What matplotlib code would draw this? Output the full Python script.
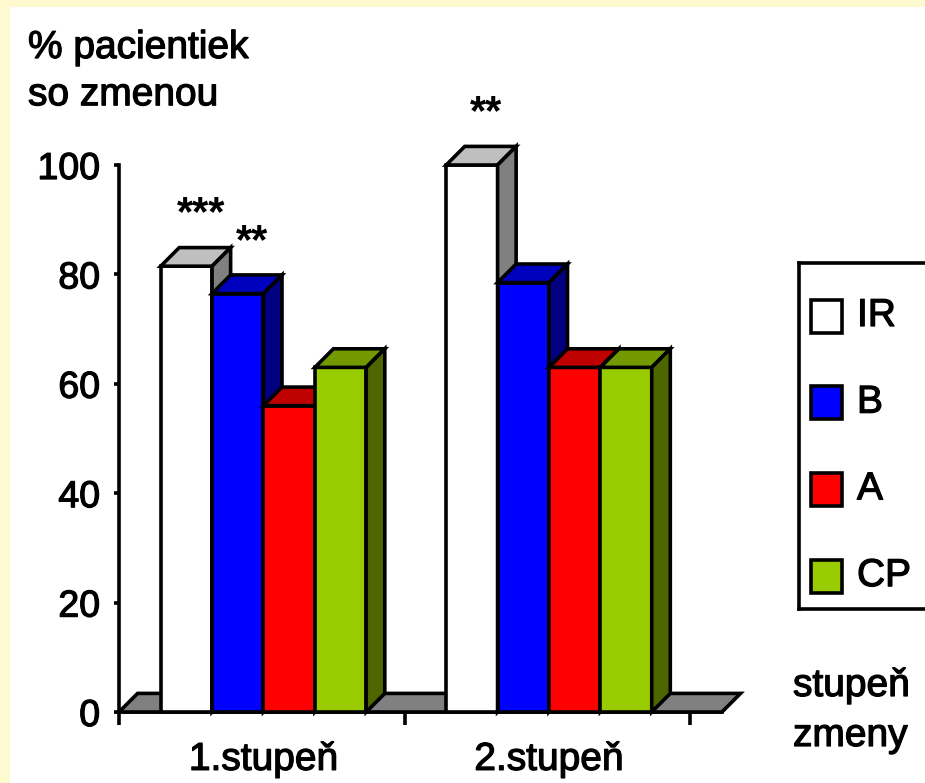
import matplotlib
matplotlib.use("Agg")
import matplotlib.pyplot as plt
import matplotlib.patheffects as pe
from matplotlib.colors import to_rgb
from matplotlib.patches import Polygon, Rectangle

plt.rcParams["font.family"] = ["Liberation Sans", "DejaVu Sans"]

categories = ["1.stupeň", "2.stupeň"]
series_names = ["IR", "B", "A", "CP"]
series_colors = ["#FFFFFF", "#0000FF", "#FF0000", "#99CC00"]

# % of patients with a change, per grade
ir = [81.5, 100]
b = [76.5, 78.5]
a = [56, 63]
cp = [63, 63]
series_values = [ir, b, a, cp]

# significance marks above the bars
ir_sig = ["***", "**"]
b_sig = ["**", ""]
a_sig = ["", ""]
cp_sig = ["", ""]
series_sig = [ir_sig, b_sig, a_sig, cp_sig]

W, H = 925, 783
LW = 2.6
BAR_W = 0.18
GROUP_OFFSET = 0.146
DX, DY = 0.065, 3.4  # oblique depth of the 3D boxes
FLOOR_END = 2.112
HEAVY = [pe.withStroke(linewidth=0.9, foreground="black")]


def shade(color, f):
    return tuple(c * f for c in to_rgb(color))


fig = plt.figure(figsize=(W / 100, H / 100), dpi=100, facecolor="#FFF9CF")
fig.add_artist(Rectangle((10 / W, 0), 1, 1 - 7 / H, transform=fig.transFigure,
                         facecolor="white", edgecolor="none", zorder=-1))

ax = fig.add_axes([119 / W, 71 / H, 2.2 * 285.5 / W, 115 * 5.47 / H])
ax.set_xlim(0, 2.2)
ax.set_ylim(0, 115)
ax.patch.set_visible(False)

# floor
ax.add_patch(Polygon([(0, 0), (FLOOR_END, 0), (FLOOR_END + DX, DY), (DX, DY)],
                     closed=True, facecolor="#808080", edgecolor="black",
                     linewidth=LW, zorder=2, clip_on=False))

for j, (vals, color, sigs) in enumerate(zip(series_values, series_colors, series_sig)):
    for i, v in enumerate(vals):
        x0 = i + GROUP_OFFSET + j * BAR_W
        x1 = x0 + BAR_W
        faces = [
            ([(x0, 0), (x1, 0), (x1, v), (x0, v)], to_rgb(color)),
            ([(x0, v), (x1, v), (x1 + DX, v + DY), (x0 + DX, v + DY)], shade(color, 0.75)),
            ([(x1, 0), (x1 + DX, DY), (x1 + DX, v + DY), (x1, v)], shade(color, 0.5)),
        ]
        for pts, fc in faces:
            ax.add_patch(Polygon(pts, closed=True, facecolor=fc, edgecolor="black",
                                 linewidth=LW, joinstyle="miter", zorder=3 + j,
                                 clip_on=False))
        if sigs[i]:
            ax.text((x0 + x1) / 2 + 0.05, v + 9.5, sigs[i], ha="center", va="center",
                    fontsize=30, fontweight="bold", zorder=10)

for side in ["top", "right"]:
    ax.spines[side].set_visible(False)
ax.spines["left"].set_bounds(0, 100)
ax.spines["bottom"].set_bounds(0, FLOOR_END)
for side in ["left", "bottom"]:
    ax.spines[side].set_linewidth(LW)
    ax.spines[side].set_zorder(1)

ax.set_yticks(range(0, 101, 20))
ax.tick_params(axis="y", direction="out", length=3.6, width=LW, labelsize=27, pad=10)
ax.set_xticks([0, 1, 2])
ax.set_xticklabels([])
ax.set_xticks([i + 0.506 for i in range(len(categories))], minor=True)
ax.set_xticklabels(categories, minor=True)
ax.tick_params(axis="x", which="major", direction="out", length=9.5, width=LW)
ax.tick_params(axis="x", which="minor", length=0, labelsize=28, pad=21.5)
for lbl in ax.get_yticklabels() + ax.get_xticklabels(minor=True):
    lbl.set_path_effects(HEAVY)

fig.text(28 / W, 1 - 30 / H, "% pacientiek\nso zmenou", ha="left", va="top",
         fontsize=28, linespacing=1.4, path_effects=HEAVY)
fig.text(793 / W, 1 - 668 / H, "stupeň\nzmeny", ha="left", va="top",
         fontsize=28, linespacing=1.5, path_effects=HEAVY)

# legend box
lax = fig.add_axes([799 / W, (H - 609) / H, 200 / W, 346 / H])
lax.set_xlim(0, 200)
lax.set_ylim(346, 0)
lax.set_xticks([])
lax.set_yticks([])
for sp in lax.spines.values():
    sp.set_linewidth(LW)
for k, (name, color) in enumerate(zip(series_names, series_colors)):
    cy = 53 + k * 86.7
    lax.add_patch(Rectangle((12, cy - 16.5), 31, 33, facecolor=color,
                            edgecolor="black", linewidth=LW))
    lax.text(58, cy, name, ha="left", va="center", fontsize=28, path_effects=HEAVY)

fig.savefig("out.png", dpi=100, facecolor=fig.get_facecolor())
